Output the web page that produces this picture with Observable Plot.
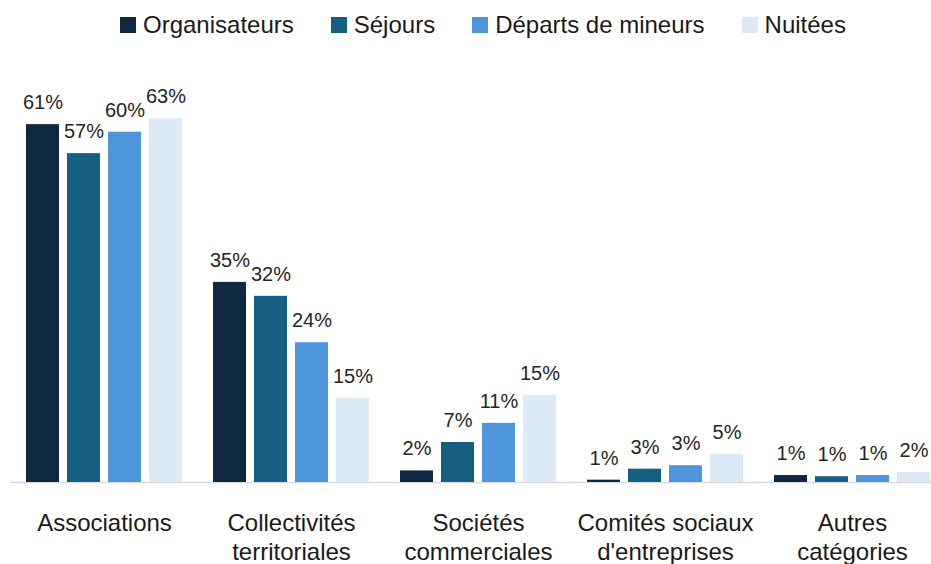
<!DOCTYPE html>
<html><head><meta charset="utf-8">
<script src="https://cdn.jsdelivr.net/npm/d3@7"></script>
<script src="https://cdn.jsdelivr.net/npm/@observablehq/plot@0.6"></script>
<style>
body{margin:0;background:#fff;font-family:"Liberation Sans",Arial,sans-serif;}
#legend{height:50px;display:flex;align-items:center;padding-left:120px;font-size:24px;color:#1a1a1a;box-sizing:border-box;}
.item{display:flex;align-items:center;margin-right:37px;white-space:nowrap;}
.sw{width:16px;height:16px;margin-right:7px;flex:none;}
</style></head><body>
<div id="legend"></div>
<div id="chart"></div>
<script>
const categories = ["Associations","Collectivités territoriales","Sociétés commerciales","Comités sociaux d'entreprises","Autres catégories"];
const categoryLabels = ["Associations","Collectivités\nterritoriales","Sociétés\ncommerciales","Comités sociaux\nd'entreprises","Autres\ncatégories"];
const series = ["Organisateurs","Séjours","Départs de mineurs","Nuitées"];
const colors = ["#0e2841","#156082","#4e95d9","#dceaf7"];

const organisateurs = [61.7, 34.5, 2.0, 0.4, 1.2];
const sejours       = [56.7, 32.1, 6.9, 2.3, 1.0];
const departs       = [60.4, 24.1, 10.2, 2.9, 1.2];
const nuitees       = [62.7, 14.5, 15.0, 4.8, 1.7];

const labelsOrganisateurs = ["61%","35%","2%","1%","1%"];
const labelsSejours       = ["57%","32%","7%","3%","1%"];
const labelsDeparts       = ["60%","24%","11%","3%","1%"];
const labelsNuitees       = ["63%","15%","15%","5%","2%"];

const valuesBySeries = [organisateurs, sejours, departs, nuitees];
const labelsBySeries = [labelsOrganisateurs, labelsSejours, labelsDeparts, labelsNuitees];

const table = categories.flatMap((c, i) => series.map((s, j) => ({
  category: c, series: s, value: valuesBySeries[j][i], label: labelsBySeries[j][i], catLabel: categoryLabels[i]
})));

// legend
const legend = document.getElementById("legend");
series.forEach((s, j) => {
  const it = document.createElement("div"); it.className = "item";
  const sw = document.createElement("div"); sw.className = "sw"; sw.style.background = colors[j];
  const tx = document.createElement("span"); tx.textContent = s;
  it.appendChild(sw); it.appendChild(tx); legend.appendChild(it);
});

const chart = Plot.plot({
  width: 931, height: 514,
  marginTop: 26, marginBottom: 82, marginLeft: 26, marginRight: 1,
  style: {fontFamily: '"Liberation Sans", Arial, sans-serif', background: "white", overflow: "visible"},
  facet: {data: table, x: "category"},
  fx: {domain: categories, paddingInner: 0.166, paddingOuter: 0, axis: null, label: null},
  x: {domain: series, paddingInner: 0.2, paddingOuter: 0, axis: null},
  y: {domain: [0, 70], axis: null},
  color: {domain: series, range: colors},
  marks: [
    Plot.ruleY([0], {stroke: "#d9d9d9", strokeWidth: 1.5, insetLeft: -16, insetRight: -16}),
    Plot.barY(table, {x: "series", y: "value", fill: "series"}),
    Plot.text(table, {x: "series", y: "value", text: "label", dy: -22, fontSize: 20, fill: "#262626"}),
    Plot.text(table, {filter: d => d.series === series[0], text: "catLabel", frameAnchor: "bottom", lineAnchor: "top", dy: 28, fontSize: 24, lineHeight: 1.2, fill: "#1a1a1a"})
  ]
});
document.getElementById("chart").appendChild(chart);
</script>
</body></html>
